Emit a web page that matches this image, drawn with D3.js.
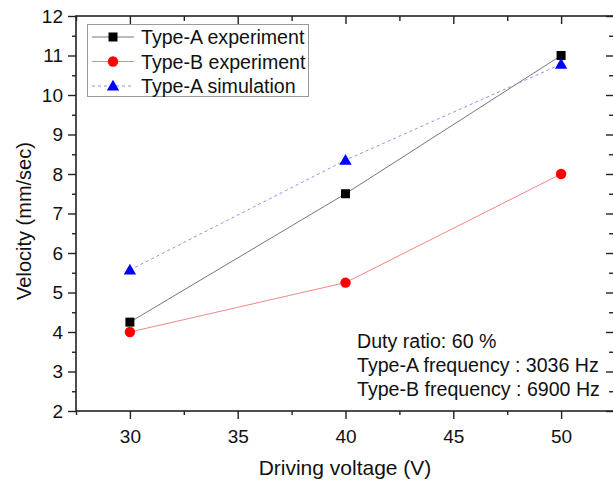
<!DOCTYPE html>
<html><head><meta charset="utf-8">
<script src="https://cdn.jsdelivr.net/npm/d3@7/dist/d3.min.js"></script>
<style>body{margin:0;background:#fff}svg{display:block}text{font-family:"Liberation Sans",Arial,sans-serif}</style>
</head><body>
<script>
const voltages = [30, 40, 50];
const typeAExperiment = [4.25, 7.5, 11.0];
const typeBExperiment = [4.0, 5.25, 8.0];
const typeASimulation = [5.57, 8.35, 10.78];
const xTicks = [30, 35, 40, 45, 50];
const yTicks = [2, 3, 4, 5, 6, 7, 8, 9, 10, 11, 12];
const seriesNames = ["Type-A experiment", "Type-B experiment", "Type-A simulation"];
const notes = ["Duty ratio: 60 %", "Type-A frequency : 3036 Hz", "Type-B frequency : 6900 Hz"];

const W = 613, H = 484;
const svg = d3.select("body").append("svg").attr("width", W).attr("height", H);
const L = 76, T = 16, R = 615, B = 411;
const x = d3.scaleLinear().domain([27.5, 52.5]).range([L, R]);
const y = d3.scaleLinear().domain([2, 12]).range([B, T]);

const minorX = d3.range(27.5, 52.6, 2.5).filter(v => v % 5 !== 0);
const minorY = d3.range(2.5, 12, 1);

const g = svg.append("g");
// bottom axis: outward ticks
g.append("g").attr("transform", `translate(0,${B})`)
  .call(d3.axisBottom(x).tickValues(xTicks).tickSize(8).tickPadding(11).tickFormat(d3.format("d")));
g.append("g").attr("transform", `translate(0,${B})`)
  .call(d3.axisBottom(x).tickValues(minorX).tickSize(4).tickFormat(""));
// top axis: inward ticks
g.append("g").attr("transform", `translate(0,${T})`)
  .call(d3.axisBottom(x).tickValues(xTicks).tickSize(8).tickFormat(""));
g.append("g").attr("transform", `translate(0,${T})`)
  .call(d3.axisBottom(x).tickValues(minorX).tickSize(5).tickFormat(""));
// left axis: outward
g.append("g").attr("transform", `translate(${L},0)`)
  .call(d3.axisLeft(y).tickValues(yTicks).tickSize(8).tickPadding(5).tickFormat(d3.format("d")));
g.append("g").attr("transform", `translate(${L},0)`)
  .call(d3.axisLeft(y).tickValues(minorY).tickSize(4).tickFormat(""));
// right axis: inward
g.append("g").attr("transform", `translate(${R},0)`)
  .call(d3.axisLeft(y).tickValues(yTicks).tickSize(9).tickFormat(""));
g.append("g").attr("transform", `translate(${R},0)`)
  .call(d3.axisLeft(y).tickValues(minorY).tickSize(6).tickFormat(""));
g.selectAll(".domain").remove();
g.selectAll(".tick line").attr("stroke", "#222").attr("stroke-width", 1.4);
g.selectAll(".tick text").attr("font-size", 19).attr("fill", "#111");
svg.append("rect").attr("x", L).attr("y", T).attr("width", R - L).attr("height", B - T)
  .attr("fill", "none").attr("stroke", "#222").attr("stroke-width", 1.6);

// titles
svg.append("text").attr("x", 345).attr("y", 475).attr("text-anchor", "middle")
  .attr("font-size", 21).attr("fill", "#111").text("Driving voltage (V)");
svg.append("text").attr("transform", `translate(31,221) rotate(-90)`)
  .attr("text-anchor", "middle").attr("font-size", 20).attr("fill", "#111").text("Velocity (mm/sec)");

const series = [
  {name: seriesNames[0], vals: typeAExperiment, line: "#777", dash: null, color: "#000", sym: d3.symbolSquare, size: 81},
  {name: seriesNames[1], vals: typeBExperiment, line: "#ee8888", dash: null, color: "#ff0000", sym: d3.symbolCircle, size: 85},
  {name: seriesNames[2], vals: typeASimulation, line: "#9090ee", dash: "3,3", color: "#0000ff", sym: d3.symbolTriangle, size: 66}
];
const lineGen = d3.line().x(d => x(d[0])).y(d => y(d[1]));
series.forEach(s => {
  const pts = voltages.map((v, i) => [v, s.vals[i]]);
  svg.append("path").attr("d", lineGen(pts)).attr("fill", "none")
    .attr("stroke", s.line).attr("stroke-width", 1).attr("stroke-dasharray", s.dash);
});
[1, 0, 2].forEach(k => {
  const s = series[k];
  voltages.forEach((v, i) => {
    svg.append("path").attr("d", d3.symbol().type(s.sym).size(s.size)())
      .attr("transform", `translate(${x(v)},${y(s.vals[i]) + (s.sym === d3.symbolTriangle ? 1 : 0)})`)
      .attr("fill", s.color);
  });
});

// legend
const lg = svg.append("g");
lg.append("rect").attr("x", 87.5).attr("y", 24.5).attr("width", 221).attr("height", 72)
  .attr("fill", "#fff").attr("stroke", "#999").attr("stroke-width", 1);
series.forEach((s, i) => {
  const yy = 37 + i * 24.5;
  lg.append("line").attr("x1", 92).attr("x2", 134).attr("y1", yy).attr("y2", yy)
    .attr("stroke", s.line).attr("stroke-width", 1).attr("stroke-dasharray", s.dash);
  lg.append("path").attr("d", d3.symbol().type(s.sym).size(s.size)())
    .attr("transform", `translate(113,${yy + (s.sym === d3.symbolTriangle ? 1 : 0)})`).attr("fill", s.color);
  lg.append("text").attr("x", 141).attr("y", yy + 7).attr("font-size", 19.6).attr("fill", "#111").text(s.name);
});

// notes
notes.forEach((t, i) => {
  svg.append("text").attr("x", 357).attr("y", [348, 372, 396][i]).attr("font-size", 19.6).attr("fill", "#111").text(t);
});
</script>
</body></html>
